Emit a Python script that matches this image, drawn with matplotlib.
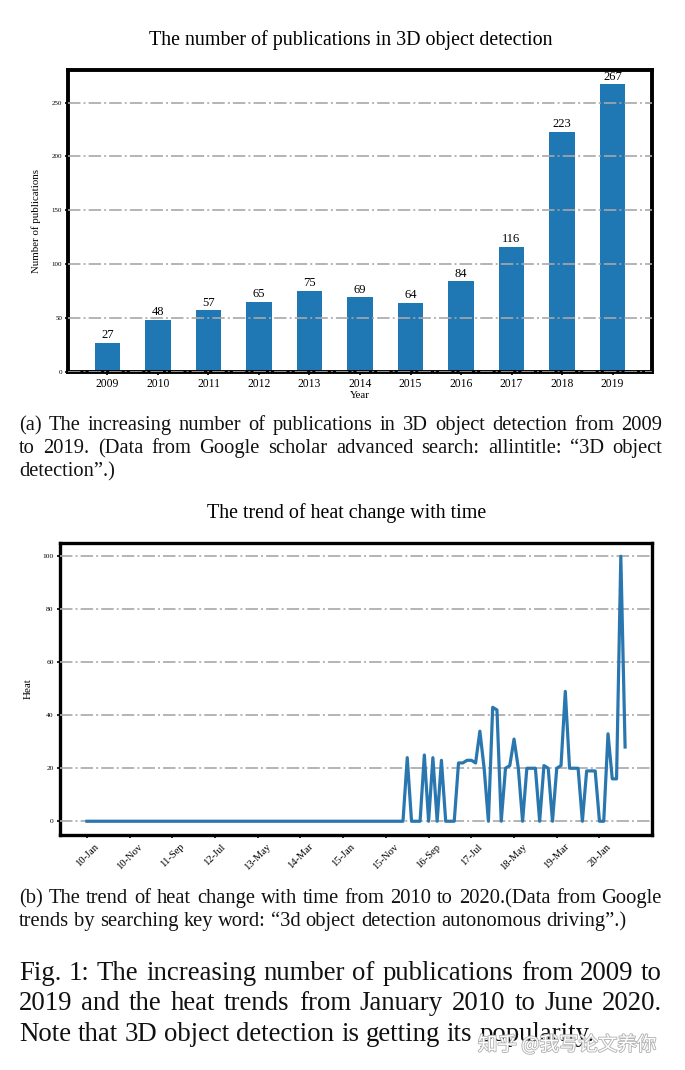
import numpy as np
import matplotlib
matplotlib.use("Agg")
import matplotlib.pyplot as plt
import matplotlib.patheffects as pe

# ---------------- data ----------------
years = ["2009", "2010", "2011", "2012", "2013", "2014", "2015", "2016", "2017", "2018", "2019"]
publications = [27, 48, 57, 65, 75, 69, 64, 84, 116, 223, 267]

heat_zero_months = 75
heat_tail = [24, 0, 0, 0, 25, 0, 24, 0, 23, 0, 0, 0, 22, 22, 23, 23, 22, 34, 20, 0,
             43, 42, 0, 20, 21, 31, 20, 0, 20, 20, 20, 0, 21, 20, 0, 20, 21, 49, 20, 20,
             20, 0, 19, 19, 19, 0, 0, 33, 16, 16, 100, 28]
heat = [0] * heat_zero_months + heat_tail
heat_tick_labels = ["10-Jan", "10-Nov", "11-Sep", "12-Jul", "13-May", "14-Mar", "15-Jan",
                    "15-Nov", "16-Sep", "17-Jul", "18-May", "19-Mar", "20-Jan"]
heat_tick_step = 10

title_a = "The number of publications in 3D object detection"
title_b = "The trend of heat change with time"
caption_a = ["(a) The increasing number of publications in 3D object detection from 2009",
             "to 2019. (Data from Google scholar advanced search: allintitle: \u201c3D object",
             "detection\u201d.)"]
caption_b = ["(b) The trend of heat change with time from 2010 to 2020.(Data from Google",
             "trends by searching key word: \u201c3d object detection autonomous driving\u201d.)"]
caption_fig = ["Fig. 1: The increasing number of publications from 2009 to",
               "2019 and the heat trends from January 2010 to June 2020.",
               "Note that 3D object detection is getting its popularity."]
watermark = "知乎 @我写论文养你"

# ---------------- layout ----------------
W, H = 685, 1070
SERIF = ["Liberation Serif", "DejaVu Serif"]
BLUE = "#1f77b4"
fig = plt.figure(figsize=(W / 100, H / 100), dpi=100)
renderer = fig.canvas.get_renderer()


def fx(px):
    return px / W


def fy(py):
    return 1 - py / H


def axes_px(left, top, right, bottom):
    return fig.add_axes([fx(left), fy(bottom), (right - left) / W, (bottom - top) / H])


def text_width(s, size):
    t = fig.text(0, 0, s, fontsize=size, family=SERIF)
    w = t.get_window_extent(renderer).width
    t.remove()
    return w


def fit_size(lines, target):
    wmax = max(text_width(l, 10) for l in lines)
    return 10 * target / wmax


def paragraph(lines, baselines, left, right, size, full_lines):
    space = text_width("a a", size) - text_width("aa", size)
    for i, (line, yb) in enumerate(zip(lines, baselines)):
        words = line.split(" ")
        texts = [fig.text(0, fy(yb), w, fontsize=size, family=SERIF,
                          va="baseline", ha="left", color="#111111") for w in words]
        widths = [t.get_window_extent(renderer).width for t in texts]
        if i < full_lines and len(words) > 1:
            sp = (right - left - sum(widths)) / (len(words) - 1)
        else:
            sp = space
        x = left
        for t, w in zip(texts, widths):
            t.set_x(fx(x))
            x += w + sp


def style_axes(ax, lw):
    for s in ax.spines.values():
        s.set_linewidth(lw)
        s.set_color("black")
    ax.grid(axis="y", color="#a8a8a8", linestyle="-.", linewidth=1.4, alpha=0.85)
    ax.set_axisbelow(False)
    ax.tick_params(axis="both", length=2.5, width=1.2, color="black", pad=2)


# ---------------- top chart ----------------
ax1 = axes_px(68.3, 70, 651.7, 371.7)
xpos = np.arange(len(years))
bars = ax1.bar(xpos, publications, width=0.5, color=BLUE, zorder=1)
style_axes(ax1, 2.8)
ax1.set_xticks(xpos)
ax1.set_xticklabels(years, fontsize=8.4, family=SERIF)
ax1.set_yticks([0, 50, 100, 150, 200, 250])
ax1.set_yticklabels(["0", "50", "100", "150", "200", "250"], fontsize=5.0, family=SERIF)
for b, v in zip(bars, publications):
    ax1.text(b.get_x() + b.get_width() / 2, v + 1.5, str(v), ha="center", va="bottom",
             fontsize=9, family=SERIF)
ax1.set_ylabel("Number of publications", fontsize=7.8, family=SERIF)
ax1.yaxis.set_label_coords(-0.047, 0.5)
ax1.set_xlabel("Year", fontsize=7.8, family=SERIF, labelpad=1)

# ---------------- bottom chart ----------------
ax2 = axes_px(60, 543, 652, 834.5)
months = np.arange(len(heat))
ax2.plot(months, heat, color="#2a77b0", linewidth=2.3, zorder=3)
style_axes(ax2, 2.4)
ax2.set_xticks(months[::heat_tick_step][:len(heat_tick_labels)])
ax2.set_xticklabels(heat_tick_labels, rotation=45, ha="center", fontsize=7.6, family=SERIF)
ax2.tick_params(axis="x", pad=3)
ax2.set_yticks([0, 20, 40, 60, 80, 100])
ax2.set_yticklabels(["0", "20", "40", "60", "80", "100"], fontsize=5.4, family=SERIF)
ax2.set_ylabel("Heat", fontsize=8, family=SERIF)
ax2.yaxis.set_label_coords(-0.046, 0.5)

# ---------------- page text ----------------
LEFT, RIGHT = 19, 662
s_title = fit_size([title_a], 404)
fig.text(fx(351), fy(45), title_a, fontsize=s_title, family=SERIF, ha="center", va="baseline")
fig.text(fx(347), fy(518), title_b, fontsize=s_title, family=SERIF, ha="center", va="baseline")

s_cap = fit_size(caption_a[:2] + caption_b[:1], (RIGHT - LEFT) * 0.985)
paragraph(caption_a, [430, 453, 476], LEFT, RIGHT, s_cap, 2)
paragraph(caption_b, [903, 926], LEFT, RIGHT, s_cap, 1)

s_fig = fit_size(caption_fig[:2], (RIGHT - LEFT) * 0.985)
paragraph(caption_fig, [980, 1010, 1041], LEFT, RIGHT, s_fig, 2)

fig.text(fx(478), fy(1045), watermark, fontsize=14, color="white", ha="left", va="center",
         family=["Noto Sans CJK SC", "DejaVu Sans"],
         path_effects=[pe.withStroke(linewidth=1.3, foreground="#b4b4b4")])

fig.savefig("out.png", dpi=100, facecolor="white")
